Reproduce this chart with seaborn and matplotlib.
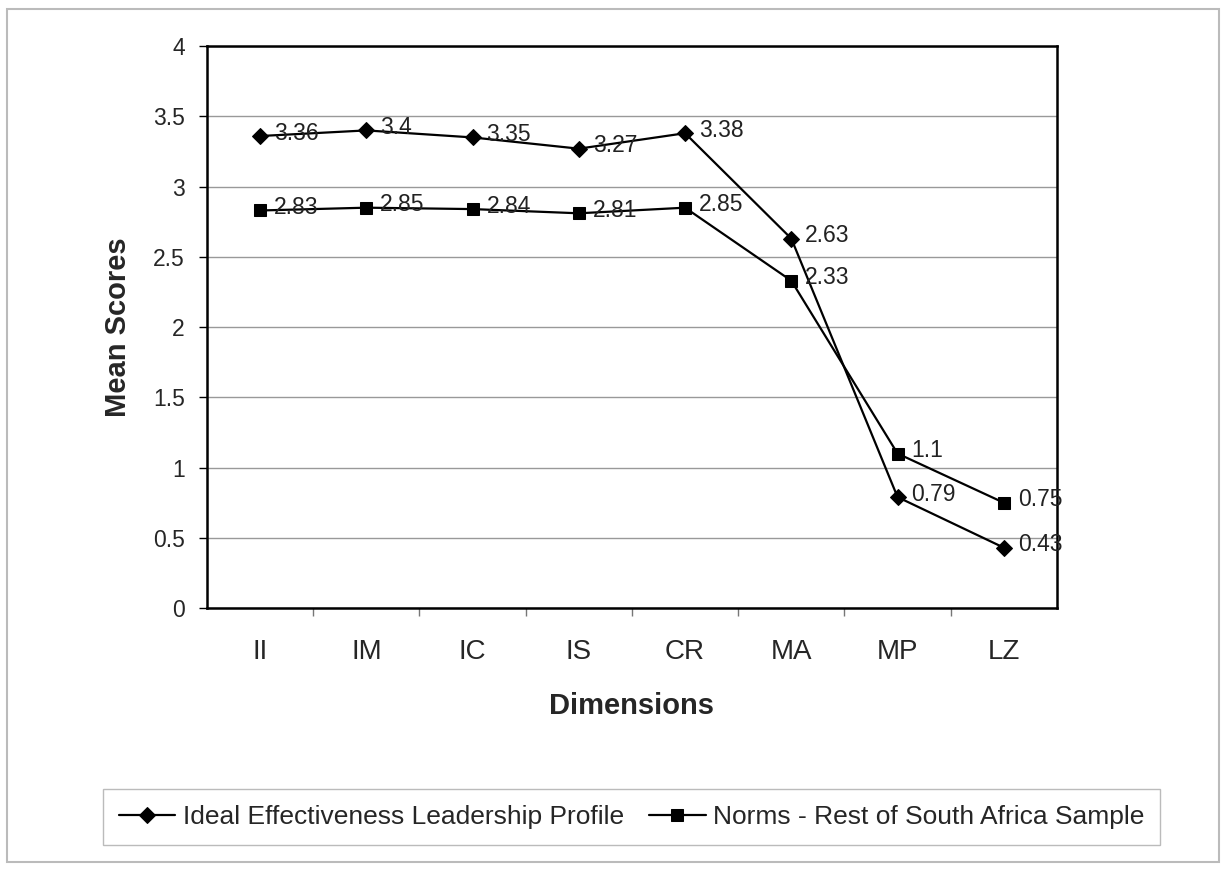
import matplotlib
matplotlib.use("Agg")
import matplotlib.pyplot as plt
from matplotlib.patches import Rectangle
from matplotlib.ticker import MultipleLocator, FixedLocator, NullFormatter
import seaborn as sns
import pandas as pd

dimensions = ["II", "IM", "IC", "IS", "CR", "MA", "MP", "LZ"]
ideal_profile = [3.36, 3.4, 3.35, 3.27, 3.38, 2.63, 0.79, 0.43]
norms_sa = [2.83, 2.85, 2.84, 2.81, 2.85, 2.33, 1.1, 0.75]
series_names = ["Ideal Effectiveness Leadership Profile",
                "Norms - Rest of South Africa Sample"]

sns.set_style("white")
plt.rcParams["font.family"] = ["Liberation Sans", "DejaVu Sans"]

fig = plt.figure(figsize=(12.26, 8.8), dpi=100)
ax = fig.add_axes([0.1688, 0.309, 0.6933, 0.6386])

pos = list(range(len(dimensions)))
df_ideal = pd.DataFrame({"pos": pos, "score": ideal_profile})
df_norms = pd.DataFrame({"pos": pos, "score": norms_sa})

sns.lineplot(data=df_ideal, x="pos", y="score", ax=ax, color="black",
             marker="D", markersize=8, linewidth=1.6, label=series_names[0],
             markeredgecolor="black")
sns.lineplot(data=df_norms, x="pos", y="score", ax=ax, color="black",
             marker="s", markersize=8.5, linewidth=1.6, label=series_names[1],
             markeredgecolor="black")

# value labels to the right of each point
for xs, ys in ((pos, ideal_profile), (pos, norms_sa)):
    for x, y in zip(xs, ys):
        ax.annotate(f"{y:g}", (x, y), xytext=(10, 2), textcoords="offset points",
                    ha="left", va="center", fontsize=16.5, color="#222222")

ax.set_xlim(-0.5, len(dimensions) - 0.5)
ax.set_ylim(0, 4)
ax.yaxis.set_major_locator(MultipleLocator(0.5))
ax.set_yticklabels([f"{v:g}" for v in ax.get_yticks()])
ax.set_xticks(pos)
ax.set_xticklabels(dimensions, fontsize=20)
ax.tick_params(axis="x", which="major", length=0, pad=22)
ax.xaxis.set_minor_locator(FixedLocator([p + 0.5 for p in pos[:-1]]))
ax.xaxis.set_minor_formatter(NullFormatter())
ax.tick_params(axis="x", which="minor", length=6, width=1, color="#777777",
               direction="out", bottom=True)
ax.tick_params(axis="y", labelsize=16.5, length=6, width=1, direction="out",
               left=True, color="black", pad=10)

ax.grid(axis="y", color="#999999", linewidth=1)
ax.set_axisbelow(True)
for side in ax.spines.values():
    side.set_color("black")
    side.set_linewidth(1.8)

ax.set_xlabel("Dimensions", fontsize=21, fontweight="bold", labelpad=20)
ax.set_ylabel("Mean Scores", fontsize=21, fontweight="bold", labelpad=15)

ax.legend_.remove()
handles, labels = ax.get_legend_handles_labels()
leg = fig.legend(handles, labels, loc="center", bbox_to_anchor=(0.515, 0.0716),
                 ncol=2, fontsize=19, frameon=True, fancybox=False,
                 edgecolor="#aaaaaa", handlelength=2.15, handletextpad=0.27,
                 columnspacing=0.95, borderpad=0.6, borderaxespad=0)
leg.get_frame().set_linewidth(1)

# outer chart border
fig.patches.append(Rectangle((0.006, 0.02), 0.988, 0.97, transform=fig.transFigure,
                             fill=False, edgecolor="#bbbbbb", linewidth=1.5))

fig.savefig("out.png", dpi=100)
